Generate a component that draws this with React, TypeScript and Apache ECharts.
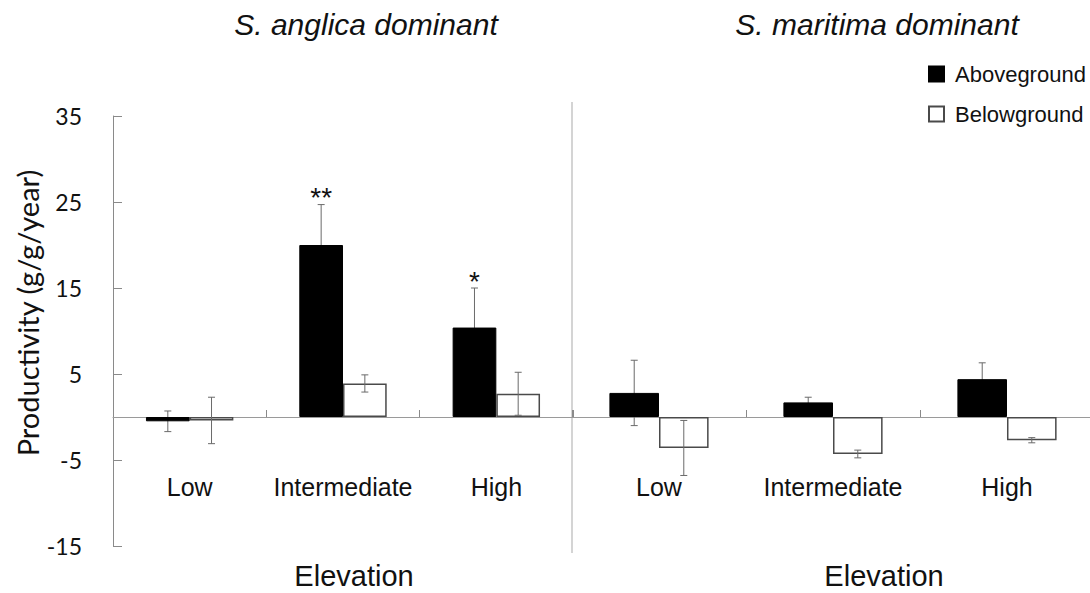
import React, { useEffect, useRef } from "react";
import * as echarts from "echarts";

const categories = ["Low", "Intermediate", "High"];
const yTicks = { min: -15, max: 35, interval: 10 };

const anglicaAbove = [-0.5, 20.0, 10.4];
const anglicaAboveErr = [1.2, 4.7, 4.6];
const anglicaBelow = [-0.4, 3.9, 2.7];
const anglicaBelowErr = [2.7, 1.0, 2.5];
const anglicaSig = ["", "**", "*"];

const maritimaAbove = [2.8, 1.7, 4.4];
const maritimaAboveErr = [3.8, 0.6, 1.9];
const maritimaBelow = [-3.6, -4.3, -2.7];
const maritimaBelowErr = [3.2, 0.45, 0.3];
const maritimaSig = ["", "", ""];

const panelTitles = ["S. anglica dominant", "S. maritima dominant"];
const xName = "Elevation";
const yName = "Productivity (g/g/year)";
const seriesNames = ["Aboveground", "Belowground"];

const SANS = "Liberation Sans, Arial, sans-serif";
const TICKFONT = "Lato, sans-serif";
const BAND_FRAC = 0.285; // each bar width as fraction of category band

function errData(vals: number[], errs: number[]) {
  return vals.map((v, i) => [i, v - errs[i], v + errs[i]]);
}

function errSeries(
  vals: number[],
  errs: number[],
  sig: string[],
  axisIndex: number,
  side: number,
  z: number
) {
  return {
    type: "custom",
    xAxisIndex: axisIndex,
    yAxisIndex: axisIndex,
    z,
    clip: false,
    silent: true,
    encode: { x: 0, y: [1, 2] },
    data: errData(vals, errs),
    renderItem: (params: any, api: any) => {
      const idx = api.value(0);
      const lo = api.value(1);
      const hi = api.value(2);
      const band = api.size([1, 0])[0];
      const top = api.coord([idx, hi]);
      const bot = api.coord([idx, lo]);
      const x = top[0] + side * (BAND_FRAC / 2) * band;
      const cap = 3.5;
      const st = { stroke: "#6a6a6a", lineWidth: 1 };
      const children: any[] = [
        { type: "line", shape: { x1: x, y1: top[1], x2: x, y2: bot[1] }, style: st },
        { type: "line", shape: { x1: x - cap, y1: top[1], x2: x + cap, y2: top[1] }, style: st },
        { type: "line", shape: { x1: x - cap, y1: bot[1], x2: x + cap, y2: bot[1] }, style: st },
      ];
      const s = sig[params.dataIndex];
      if (s) {
        children.push({
          type: "text",
          style: {
            text: s,
            x,
            y: top[1] - 7,
            align: "center",
            verticalAlign: "middle",
            fontSize: 28,
            fontFamily: SANS,
            fill: "#111",
          },
        });
      }
      return { type: "group", children };
    },
  };
}

export default function App() {
  const ref = useRef<HTMLDivElement>(null);

  useEffect(() => {
    if (!ref.current) return;
    const chart = echarts.init(ref.current, undefined, { renderer: "svg" });

    const grids = [
      { left: 113, top: 116, width: 460, height: 430, containLabel: false, outerBoundsMode: "none" },
      { left: 572, top: 116, width: 522, height: 430, containLabel: false, outerBoundsMode: "none" },
    ];

    const xAxis = grids.map((_, i) => ({
      type: "category",
      gridIndex: i,
      data: categories,
      axisLine: { onZero: true, lineStyle: { color: "#9a9a9a", width: 1 } },
      axisTick: { show: true, inside: true, length: 7, lineStyle: { color: "#8a8a8a" } },
      axisLabel: { interval: 0, margin: -72, fontSize: 25, fontFamily: SANS, color: "#111" },
    }));

    const yAxis = grids.map((_, i) => ({
      type: "value",
      gridIndex: i,
      min: yTicks.min,
      max: yTicks.max,
      interval: yTicks.interval,
      show: i === 0,
      splitLine: { show: false },
      axisLine: { show: true, lineStyle: { color: "#8a8a8a", width: 1 } },
      axisTick: { show: true, inside: true, length: 9, lineStyle: { color: "#8a8a8a" } },
      axisLabel: { margin: 31, fontSize: 23, fontFamily: TICKFONT, color: "#111" },
    }));

    const barCommon = { barGap: "0%", barCategoryGap: "43%" };
    const aboveStyle = { color: "#000", borderColor: "#000", borderWidth: 1 };
    const belowStyle = { color: "#fff", borderColor: "#4a4a4a", borderWidth: 1.5 };

    const series: any[] = [
      { type: "bar", name: seriesNames[0], xAxisIndex: 0, yAxisIndex: 0, data: anglicaAbove, itemStyle: aboveStyle, z: 2, ...barCommon },
      { type: "bar", name: seriesNames[1], xAxisIndex: 0, yAxisIndex: 0, data: anglicaBelow, itemStyle: belowStyle, z: 2, ...barCommon },
      { type: "bar", name: seriesNames[0], xAxisIndex: 1, yAxisIndex: 1, data: maritimaAbove, itemStyle: aboveStyle, z: 2, ...barCommon },
      { type: "bar", name: seriesNames[1], xAxisIndex: 1, yAxisIndex: 1, data: maritimaBelow, itemStyle: belowStyle, z: 2, ...barCommon },
      errSeries(anglicaAbove, anglicaAboveErr, anglicaSig, 0, -1, 1),
      errSeries(anglicaBelow, anglicaBelowErr, ["", "", ""], 0, 1, 3),
      errSeries(maritimaAbove, maritimaAboveErr, maritimaSig, 1, -1, 1),
      errSeries(maritimaBelow, maritimaBelowErr, ["", "", ""], 1, 1, 3),
    ];

    const titleStyle = { fontSize: 30, fontStyle: "italic", fontWeight: "normal", fontFamily: SANS, color: "#111" };
    const xNameStyle = { text: xName, align: "center", verticalAlign: "middle", fontSize: 29, fontFamily: SANS, fill: "#111" };

    chart.setOption({
      animation: false,
      backgroundColor: "#fff",
      title: [
        { text: panelTitles[0], left: 366, top: 9, padding: 0, textAlign: "center", textStyle: titleStyle },
        { text: panelTitles[1], left: 877, top: 9, padding: 0, textAlign: "center", textStyle: titleStyle },
      ],
      legend: {
        data: seriesNames,
        orient: "vertical",
        left: 928,
        top: 63,
        padding: 0,
        icon: "rect",
        itemWidth: 15,
        itemHeight: 15,
        itemGap: 18,
        selectedMode: false,
        textStyle: { fontSize: 22, fontFamily: SANS, color: "#111", lineHeight: 22, padding: [0, 0, 0, 6] },
      },
      grid: grids,
      xAxis,
      yAxis,
      series,
      graphic: [
        {
          type: "line",
          shape: { x1: 572, y1: 102, x2: 572, y2: 553 },
          style: { stroke: "#d4d4d4", lineWidth: 2 },
          z: 0,
        },
        { type: "text", x: 354, y: 576, style: xNameStyle },
        { type: "text", x: 884, y: 576, style: xNameStyle },
        {
          type: "text",
          x: 27,
          y: 313,
          rotation: Math.PI / 2,
          style: {
            text: yName,
            align: "center",
            verticalAlign: "middle",
            fontSize: 29,
            fontFamily: TICKFONT,
            fill: "#111",
          },
        },
      ],
    });

    return () => chart.dispose();
  }, []);

  return (
    <div
      ref={ref}
      style={{ position: "absolute", left: 0, top: 0, width: 1090, height: 593 }}
    />
  );
}
